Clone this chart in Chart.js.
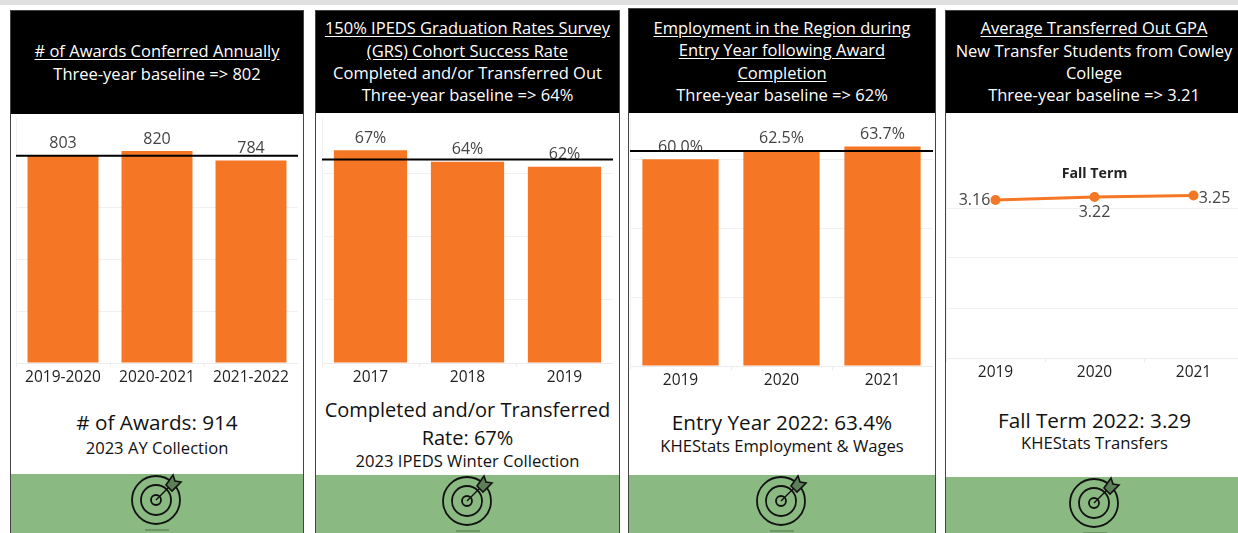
<!DOCTYPE html>
<html lang="en">
<head>
  <meta charset="UTF-8">
  <title>Key Performance Indicators</title>
  <script src="https://cdn.jsdelivr.net/npm/chart.js"></script>
  <style>
    html, body { margin: 0; padding: 0; background: #fff; width: 1238px; height: 533px; overflow: hidden; }
    body { position: relative; font-family: "Open Sans", sans-serif; }
    .topstrip { position: absolute; left: 0; top: 0; width: 1238px; height: 5px; background: #e0e0e0; }
    .card { position: absolute; box-sizing: border-box; bottom: -2px; border: 1px solid #444; overflow: hidden; background: #fff; }
    .head { position: absolute; left: 0; right: 0; top: 0; background: #000; color: #fff; font-size: 16.5px; line-height: 22.3px;
            text-align: center; display: flex; align-items: center; justify-content: center; white-space: nowrap; }
    .head u { text-underline-offset: 2px; }
    .plot { position: absolute; }
    .big { position: absolute; left: 0; right: 0; text-align: center; color: #111; font-size: 20.7px; line-height: 28px; white-space: nowrap; }
    .small { position: absolute; left: 0; right: 0; text-align: center; color: #111; font-size: 16.6px; line-height: 20px; white-space: nowrap; }
    .foot { position: absolute; left: 0; right: 0; bottom: 0; background: #8aba82; }
    .foot svg { position: absolute; left: 50%; top: -3px; margin-left: -30px; width: 60px; height: 58px; }
    .smudge { position: absolute; left: 50%; margin-left: -12px; width: 24px; height: 2px; background: rgba(60,80,60,.35); }
    .subtitle { position: absolute; left: 0; right: 0; text-align: center; font-size: 14.2px; font-weight: 700; color: #222; line-height: 18px; }
  </style>
</head>
<body>
  <div class="topstrip"></div>

  <div class="card" style="left:10px;top:10px;width:294px;height:525px">
    <div class="head" style="height:103px"><div><u># of Awards Conferred Annually</u><br>Three-year baseline =&gt; 802</div></div>
    <div class="plot" style="left:5px;top:107px;width:282px;height:275px"><canvas id="awardsChart"></canvas></div>
    <div class="big" style="top:397px"># of Awards: 914</div>
    <div class="small" style="top:427px">2023 AY Collection</div>
    <div class="foot" style="top:463px"></div>
  </div>

  <div class="card" style="left:315px;top:10px;width:305px;height:525px">
    <div class="head" style="height:102px"><div><u>150% IPEDS Graduation Rates Survey<br>(GRS) Cohort Success Rate</u><br>Completed and/or Transferred Out<br>Three-year baseline =&gt; 64%</div></div>
    <div class="plot" style="left:6px;top:107px;width:291px;height:275px"><canvas id="gradChart"></canvas></div>
    <div class="big" style="top:385px;font-size:20px">Completed and/or Transferred<br>Rate: 67%</div>
    <div class="small" style="top:440px">2023 IPEDS Winter Collection</div>
    <div class="foot" style="top:464px"></div>
  </div>

  <div class="card" style="left:628px;top:8px;width:308px;height:527px">
    <div class="head" style="height:104px;padding-top:1px;box-sizing:border-box"><div><u>Employment in the Region during<br>Entry Year following Award<br>Completion</u><br>Three-year baseline =&gt; 62%</div></div>
    <div class="plot" style="left:1px;top:109px;width:303px;height:278px"><canvas id="employChart"></canvas></div>
    <div class="big" style="top:399px">Entry Year 2022: 63.4%</div>
    <div class="small" style="top:427px">KHEStats Employment &amp; Wages</div>
    <div class="foot" style="top:466px"></div>
  </div>

  <div class="card" style="left:945px;top:10px;width:300px;height:525px">
    <div class="head" style="height:102px;width:296px"><div><u>Average Transferred Out GPA</u><br>New Transfer Students from Cowley<br>College<br>Three-year baseline =&gt; 3.21</div></div>
    <div class="plot" style="left:0;top:107px;width:297px;height:270px"><canvas id="gpaChart"></canvas></div>
    <div class="subtitle" style="top:153px;width:297px">Fall Term</div>
    <div class="big" style="top:395px;width:297px">Fall Term 2022: 3.29</div>
    <div class="small" style="top:422px;width:297px">KHEStats Transfers</div>
    <div class="foot" style="top:466px"></div>
  </div>

  <script>
    const awardYears = ['2019-2020', '2020-2021', '2021-2022'];
    const awardValues = [803, 820, 784];
    const awardBaseline = 802;

    const gradYears = ['2017', '2018', '2019'];
    const gradValues = [67.3, 63.7, 62.1];
    const gradBaseline = 64.4;

    const employYears = ['2019', '2020', '2021'];
    const employValues = [60.0, 62.5, 63.7];
    const employBaseline = 62.4;

    const gpaYears = ['2019', '2020', '2021'];
    const gpaValues = [3.16, 3.22, 3.25];

    const ORANGE = '#f57725';
    const FONT = '"Open Sans", sans-serif';

    // black baseline across the plot + value labels over the marks
    const annotatePlugin = {
      id: 'annotate',
      afterDatasetsDraw(chart, args, opts) {
        const c = chart.ctx;
        const area = chart.chartArea;
        const meta = chart.getDatasetMeta(0);
        c.save();
        c.font = '16px ' + FONT;
        c.fillStyle = '#444';
        c.textAlign = 'center';
        c.textBaseline = 'middle';
        meta.data.forEach(function(el, i) {
          const txt = opts.format(chart.data.datasets[0].data[i]);
          const off = opts.offsets ? opts.offsets[i] : [0, -12];
          c.fillText(txt, el.x + off[0], el.y + off[1]);
        });
        if (opts.baseline !== undefined) {
          const y = chart.scales.y.getPixelForValue(opts.baseline);
          c.strokeStyle = '#000';
          c.lineWidth = 2;
          c.beginPath();
          c.moveTo(area.left, y);
          c.lineTo(area.right, y);
          c.stroke();
        }
        c.restore();
      }
    };

    function baseOptions(yMax, yStep, annotate) {
      return {
        responsive: true,
        maintainAspectRatio: false,
        animation: false,
        layout: { padding: 0, autoPadding: false },
        plugins: { legend: { display: false }, tooltip: { enabled: false }, annotate: annotate },
        scales: {
          x: {
            offset: true,
            afterFit: function(s) { s.height = 30; },
            grid: { drawOnChartArea: false, color: '#ececec', tickLength: 4, offset: true },
            border: { color: '#ececec' },
            ticks: { color: '#222', font: { family: FONT, size: 15.5 }, maxRotation: 0, padding: 1 }
          },
          y: {
            min: 0,
            max: yMax,
            afterFit: function(s) { s.width = 0; },
            ticks: { display: false, stepSize: yStep, includeBounds: false },
            grid: { color: '#f1f1f1', drawTicks: false },
            border: { color: '#f1f1f1' }
          }
        }
      };
    }

    function barChart(id, labels, values, yMax, yStep, annotate) {
      return new Chart(document.getElementById(id), {
        type: 'bar',
        data: {
          labels: labels,
          datasets: [{ data: values, backgroundColor: ORANGE, barPercentage: 0.755, categoryPercentage: 1 }]
        },
        options: baseOptions(yMax, yStep, annotate),
        plugins: [annotatePlugin]
      });
    }

    barChart('awardsChart', awardYears, awardValues, 948, 200, {
      baseline: awardBaseline,
      format: function(v) { return String(v); }
    });
    barChart('gradChart', gradYears, gradValues, 77.5, 20, {
      baseline: gradBaseline,
      format: function(v) { return v.toFixed(0) + '%'; }
    });
    barChart('employChart', employYears, employValues, 72, 20, {
      baseline: employBaseline,
      format: function(v) { return v.toFixed(1) + '%'; }
    });

    const gpaOptions = baseOptions(4.8, 1, {
      format: function(v) { return v.toFixed(2); },
      offsets: [[-21, 0], [0, 15], [21, 3]]
    });
    // no gridline above 3 on this one
    gpaOptions.scales.y.grid.color = function(ctx) {
      return ctx.tick && ctx.tick.value > 3 ? 'rgba(0,0,0,0)' : '#f1f1f1';
    };

    new Chart(document.getElementById('gpaChart'), {
      type: 'line',
      data: {
        labels: gpaYears,
        datasets: [{
          data: gpaValues,
          borderColor: ORANGE,
          backgroundColor: ORANGE,
          borderWidth: 3,
          pointRadius: 3.5,
          tension: 0
        }]
      },
      options: gpaOptions,
      plugins: [annotatePlugin]
    });

    // target icon is the same in each green footer
    const iconSvg = '<svg viewBox="0 0 60 58" fill="none" stroke="#111" stroke-width="1.8">' +
      '<circle cx="29" cy="29" r="24"/><circle cx="29" cy="29" r="15"/><circle cx="29" cy="29" r="5"/>' +
      '<path d="M29 29 L44 14" stroke-width="1.5"/>' +
      '<path d="M39 14 L46 4 L48 10 L54 11 L45 20 Z" fill="#5d7f57" stroke-width="1.6"/></svg>';
    document.querySelectorAll('.foot').forEach(function(f) {
      f.innerHTML = iconSvg + '<div class="smudge" style="top:55px"></div>';
    });
  </script>
</body>
</html>
